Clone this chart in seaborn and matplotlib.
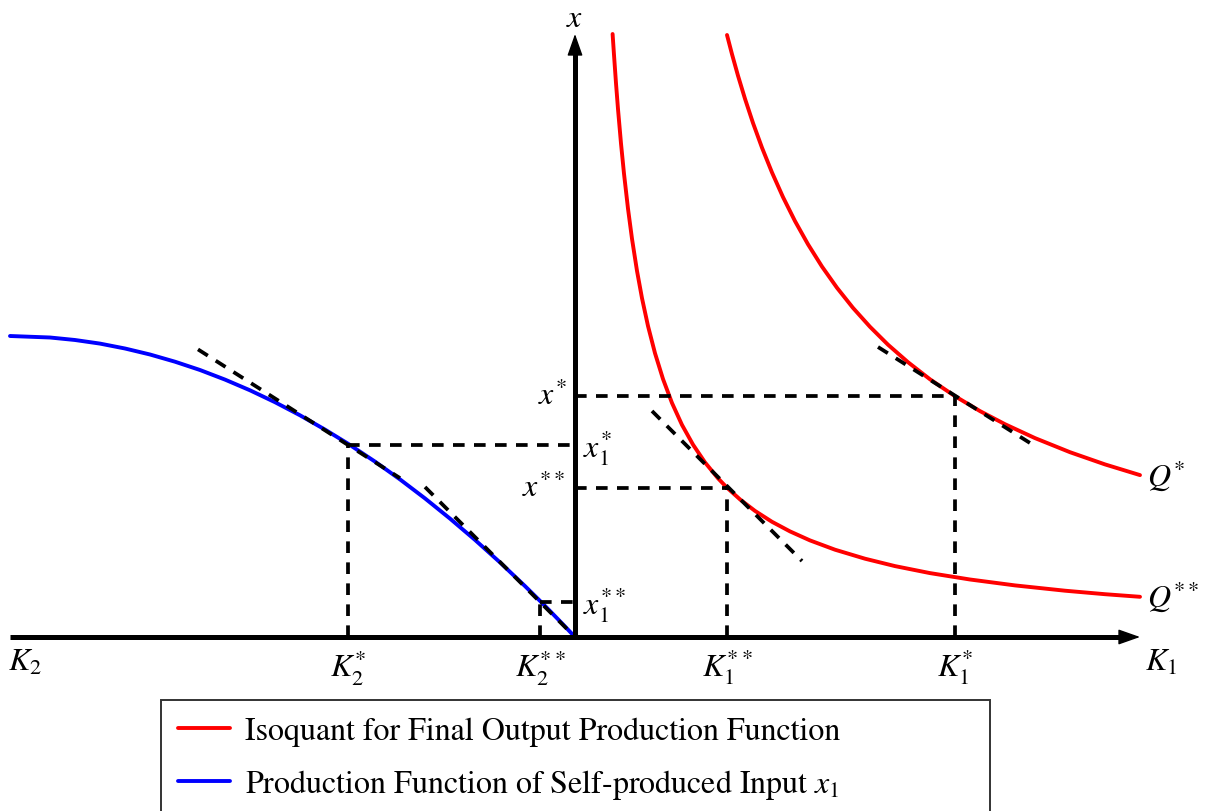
import matplotlib
matplotlib.use("Agg")
import matplotlib.pyplot as plt
import seaborn as sns
from matplotlib.lines import Line2D

# ---------------- data (1 unit = 100 px) ----------------
# production function of self-produced input (left quadrant, K2 drawn to the left)
k2_vals = [-5.65, -5.25, -5.0, -4.75, -4.5, -4.25, -4.0, -3.75, -3.5, -3.25, -3.0,
           -2.75, -2.5, -2.27, -2.0, -1.75, -1.5, -1.25, -1.0, -0.75, -0.5, -0.35,
           -0.25, -0.12, 0.0]
x1_vals = [3.01, 2.995, 2.97, 2.934, 2.885, 2.825, 2.753, 2.670, 2.574, 2.467, 2.348,
           2.217, 2.074, 1.933, 1.754, 1.576, 1.386, 1.184, 0.971, 0.746, 0.509, 0.361,
           0.260, 0.126, 0.0]

# isoquant Q*
q1_k1 = [1.52, 1.57, 1.63, 1.70, 1.78, 1.87, 1.97, 2.08, 2.20, 2.33, 2.47, 2.62,
         2.78, 2.95, 3.13, 3.33, 3.55, 3.80, 4.05, 4.30, 4.60, 4.95, 5.30, 5.65]
q1_x = [6.02, 5.828, 5.613, 5.382, 5.140, 4.893, 4.645, 4.399, 4.159, 3.927, 3.704,
        3.492, 3.291, 3.102, 2.923, 2.748, 2.577, 2.408, 2.259, 2.128, 1.989, 1.848,
        1.726, 1.619]
# isoquant Q**
q2_k1 = [0.376, 0.39, 0.41, 0.43, 0.46, 0.49, 0.53, 0.57, 0.62, 0.67, 0.73, 0.80,
         0.88, 0.97, 1.07, 1.18, 1.30, 1.43, 1.52, 1.65, 1.80, 1.97, 2.15, 2.35,
         2.60, 2.90, 3.20, 3.55, 3.95, 4.40, 4.90, 5.30, 5.65]
q2_x = [6.03, 5.821, 5.537, 5.279, 4.935, 4.633, 4.283, 3.982, 3.661, 3.388, 3.110,
        2.838, 2.580, 2.340, 2.121, 1.924, 1.746, 1.587, 1.493, 1.376, 1.261, 1.152,
        1.056, 0.966, 0.873, 0.783, 0.709, 0.639, 0.575, 0.516, 0.463, 0.428, 0.402]

# equilibrium points
K1_star, x_star = 3.80, 2.41
K1_2star, x_2star = 1.52, 1.49
K2_star, x1_star = -2.27, 1.92
K2_2star, x1_2star = -0.35, 0.35

# tangent segments (x pairs, y pairs)
tan_k2s_x, tan_k2s_y = [-3.77, -1.75], [2.876, 1.589]
tan_k2ss_x, tan_k2ss_y = [-1.50, 0.0], [1.50, 0.0]
tan_k1ss_x, tan_k1ss_y = [0.77, 2.27], [2.26, 0.76]
tan_k1s_x, tan_k1s_y = [3.03, 4.55], [2.90, 1.94]

# axis extents
k_axis_min, k_axis_max = -5.65, 5.65
x_axis_max = 6.03

legend_labels = ["Isoquant for Final Output Production Function",
                 "Production Function of Self-produced Input $x_1$"]

# ---------------- style ----------------
sns.set_theme(style="white")
plt.rcParams["font.family"] = ["STIXGeneral", "DejaVu Serif"]
plt.rcParams["mathtext.fontset"] = "stix"
plt.rcParams["text.color"] = "black"

fig = plt.figure(figsize=(12.07, 8.12), dpi=100)
ax = fig.add_axes([0, 0, 1, 1])
ax.set_xlim(-5.75, 6.32)
ax.set_ylim(-1.74, 6.38)
ax.axis("off")

curve_lw = 2.8
dash_lw = 2.7
dash = (0, (3.1, 2.5))
axis_lw = 3.6
FS = 23
LFS = 23

# curves
sns.lineplot(x=k2_vals, y=x1_vals, color="#0000ff", lw=curve_lw, sort=False,
             estimator=None, ax=ax, zorder=3)
sns.lineplot(x=q1_k1, y=q1_x, color="#ff0000", lw=curve_lw, sort=False,
             estimator=None, ax=ax, zorder=3)
sns.lineplot(x=q2_k1, y=q2_x, color="#ff0000", lw=curve_lw, sort=False,
             estimator=None, ax=ax, zorder=3)

# tangents
for tx, ty in [(tan_k2s_x, tan_k2s_y), (tan_k2ss_x, tan_k2ss_y),
               (tan_k1ss_x, tan_k1ss_y), (tan_k1s_x, tan_k1s_y)]:
    ax.plot(tx, ty, color="black", lw=dash_lw, ls=dash, zorder=4)

# guide lines
guides = [
    ([0, K1_star], [x_star, x_star]),
    ([K1_star, K1_star], [0, x_star]),
    ([0, K1_2star], [x_2star, x_2star]),
    ([K1_2star, K1_2star], [0, x_2star]),
    ([K2_star, 0], [x1_star, x1_star]),
    ([K2_star, K2_star], [0, x1_star]),
    ([K2_2star, 0], [x1_2star, x1_2star]),
    ([K2_2star, K2_2star], [0, x1_2star]),
]
for gx, gy in guides:
    ax.plot(gx, gy, color="black", lw=dash_lw, ls=dash, zorder=4)

# axes: shafts + heads
head_len = 0.16
ax.plot([k_axis_min, k_axis_max - head_len], [0, 0], color="black", lw=axis_lw,
        solid_capstyle="butt", zorder=5)
ax.plot([0, 0], [0, x_axis_max - head_len], color="black", lw=axis_lw,
        solid_capstyle="butt", zorder=5)
head_kw = dict(arrowstyle="-|>,head_length=0.85,head_width=0.3", lw=1.0,
               color="black", shrinkA=0, shrinkB=0, mutation_scale=16)
ax.annotate("", xy=(k_axis_max, 0), xytext=(k_axis_max - 0.2, 0),
            arrowprops=head_kw, zorder=6)
ax.annotate("", xy=(0, x_axis_max), xytext=(0, x_axis_max - 0.2),
            arrowprops=head_kw, zorder=6)

# labels
ax.text(0, 6.19, "$x$", fontsize=FS, ha="center", va="center")
ax.text(k_axis_min - 0.02, -0.10, "$K_2$", fontsize=FS, ha="left", va="top")
ax.text(K2_star, -0.10, "$K_2^{*}$", fontsize=FS, ha="center", va="top")
ax.text(K2_2star, -0.10, "$K_2^{**}$", fontsize=FS, ha="center", va="top")
ax.text(K1_2star, -0.10, "$K_1^{**}$", fontsize=FS, ha="center", va="top")
ax.text(K1_star, -0.10, "$K_1^{*}$", fontsize=FS, ha="center", va="top")
ax.text(5.70, -0.10, "$K_1$", fontsize=FS, ha="left", va="top")
ax.text(-0.08, x_star, "$x^{*}$", fontsize=FS, ha="right", va="center")
ax.text(-0.10, x_2star, "$x^{**}$", fontsize=FS, ha="right", va="center")
ax.text(0.08, x1_star - 0.02, "$x_1^{*}$", fontsize=FS, ha="left", va="center")
ax.text(0.08, x1_2star - 0.02, "$x_1^{**}$", fontsize=FS, ha="left", va="center")
ax.text(5.72, 1.62, "$Q^{*}$", fontsize=FS, ha="left", va="center")
ax.text(5.72, 0.41, "$Q^{**}$", fontsize=FS, ha="left", va="center")

# legend
handles = [Line2D([0], [0], color="#ff0000", lw=curve_lw),
           Line2D([0], [0], color="#0000ff", lw=curve_lw)]
x0 = 161 / 1207
ytop = 1 - 701 / 812
w = (990 - 161) / 1207
leg = ax.legend(handles, legend_labels, loc="upper left",
                bbox_to_anchor=(x0, ytop - 0.3, w, 0.3), mode="expand",
                bbox_transform=fig.transFigure, fontsize=LFS, frameon=True,
                fancybox=False, edgecolor="black", borderaxespad=0,
                borderpad=0.52, handlelength=1.65, handletextpad=0.45,
                labelspacing=0.66)
leg.get_frame().set_linewidth(1.4)
for t in leg.get_texts():
    t.set_color("black")

fig.savefig("out.png", dpi=100)
